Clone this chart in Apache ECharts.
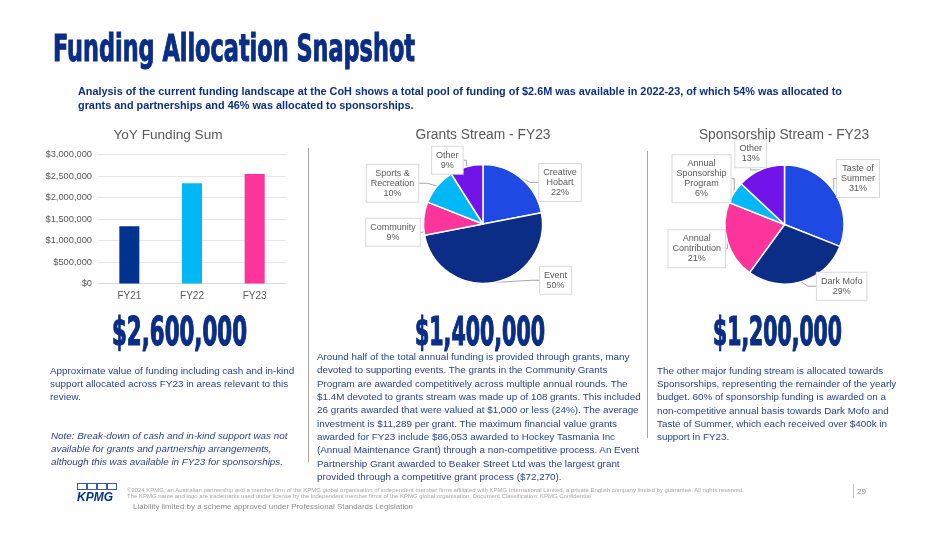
<!DOCTYPE html>
<html><head><meta charset="utf-8">
<script src="https://cdn.jsdelivr.net/npm/echarts@6/dist/echarts.min.js"></script>
<style>
html,body{margin:0;padding:0;background:#fff;}
#page{position:relative;width:951px;height:535px;overflow:hidden;font-family:'Liberation Sans',Arial,sans-serif;}
#chart{position:absolute;left:0;top:0;width:951px;height:535px;}
.t{position:absolute;white-space:nowrap;transform-origin:0 0;}
.head{font-family:'DejaVu Sans Condensed','DejaVu Sans',sans-serif;font-stretch:condensed;font-weight:bold;color:#0A2D86;line-height:1;-webkit-text-stroke:1px #0A2D86;}
.sub{font-weight:bold;color:#0E2F86;font-size:10.5px;line-height:14px;}
.para{color:#2A4390;font-size:9.4px;}
.vsep{position:absolute;width:1px;background:#A6A6A6;}
.foot{color:#A6A6A6;font-size:4px;line-height:6px;}
.box{position:absolute;top:483px;width:8px;height:5px;border:1px solid #3C5BB0;}
</style></head>
<body><div id="page">
<div id="chart"></div>

<div class="t head" id="title" data-w="362" style="left:53px;top:30.5px;font-size:36.5px;">Funding Allocation Snapshot</div>

<div class="t sub" id="sub" style="left:78px;top:84px;"><span id="sub1">Analysis of the current funding landscape at the CoH shows a total pool of funding of $2.6M was available in 2022-23, of which 54% was allocated to</span><br>grants and partnerships and 46% was allocated to sponsorships.</div>

<div class="vsep" style="left:308px;top:148px;height:314px;"></div>
<div class="vsep" style="left:647px;top:151px;height:287px;"></div>

<div class="t head" id="n1" data-w="135" style="left:112px;top:312px;font-size:39px;-webkit-text-stroke:1.2px #0A2D86;">$2,600,000</div>
<div class="t head" id="n2" data-w="130" style="left:415px;top:312px;font-size:39px;-webkit-text-stroke:1.2px #0A2D86;">$1,400,000</div>
<div class="t head" id="n3" data-w="129" style="left:713px;top:312px;font-size:39px;-webkit-text-stroke:1.2px #0A2D86;">$1,200,000</div>

<div class="t para" id="p1" data-w="244" style="left:50px;top:364px;line-height:13px;"><span>Approximate value of funding including cash and in-kind</span><br>support allocated across FY23 in areas relevant to this<br>review.</div>

<div class="t para" id="p2" data-w="236" style="left:51px;top:428.5px;line-height:13px;font-style:italic;"><span>Note: Break-down of cash and in-kind support was not</span><br>available for grants and partnership arrangements,<br>although this was available in FY23 for sponsorships.</div>

<div class="t para" id="p3" data-w="312" style="left:317px;top:350px;line-height:13.33px;"><span>Around half of the total annual funding is provided through grants, many</span><br>devoted to supporting events. The grants in the Community Grants<br>Program are awarded competitively across multiple annual rounds. The<br>$1.4M devoted to grants stream was made up of 108 grants. This included<br>26 grants awarded that were valued at $1,000 or less (24%). The average<br>investment is $11,289 per grant. The maximum financial value grants<br>awarded for FY23 include $86,053 awarded to Hockey Tasmania Inc<br>(Annual Maintenance Grant) through a non-competitive process. An Event<br>Partnership Grant awarded to Beaker Street Ltd was the largest grant<br>provided through a competitive grant process ($72,270).</div>

<div class="t para" id="p4" data-w="226" style="left:657px;top:364px;line-height:13.2px;"><span>The other major funding stream is allocated towards</span><br>Sponsorships, representing the remainder of the yearly<br>budget. 60% of sponsorship funding is awarded on a<br>non-competitive annual basis towards Dark Mofo and<br>Taste of Summer, which each received over $400k in<br>support in FY23.</div>

<div class="box" style="left:77px;"></div><div class="box" style="left:87px;"></div><div class="box" style="left:97px;"></div><div class="box" style="left:107px;"></div>
<div class="t" style="left:77px;top:491px;font-size:12px;line-height:12px;font-weight:bold;font-style:italic;color:#00338D;">KPMG</div>

<div class="t foot" id="f1" data-w="618" style="left:127px;top:487px;"><span>©2024 KPMG, an Australian partnership and a member firm of the KPMG global organisation of independent member firms affiliated with KPMG International Limited, a private English company limited by guarantee. All rights reserved.</span><br>The KPMG name and logo are trademarks used under license by the independent member firms of the KPMG global organisation. Document Classification: KPMG Confidential</div>
<div class="t" id="f2" data-w="280" style="left:133px;top:503px;font-size:7.2px;line-height:8px;color:#8C8C8C;"><span>Liability limited by a scheme approved under Professional Standards Legislation</span></div>

<div class="vsep" style="left:853px;top:484px;height:14px;background:#BFBFBF;"></div>
<div class="t" style="left:857px;top:486.5px;font-size:8px;line-height:9px;color:#8C8C8C;">29</div>
</div>

<script>
// ---- data ----
const barCategories = ['FY21', 'FY22', 'FY23'];
const barValues = [1333000, 2330000, 2545000];
const barColors = ['#00338D', '#00B8F5', '#FD349C'];
const barAxisMax = 3000000;
const barAxisStep = 500000;

const grantNames = ['Creative\nHobart', 'Event', 'Community', 'Sports &\nRecreation', 'Other'];
const grantValues = [22, 50, 9, 10, 9];
const grantColors = ['#1E49E2', '#0C2D86', '#FD349C', '#00B8F5', '#7213EA'];

const sponsorNames = ['Taste of\nSummer', 'Dark Mofo', 'Annual\nContribution', 'Annual\nSponsorship\nProgram', 'Other'];
const sponsorValues = [31, 29, 21, 6, 13];
const sponsorColors = ['#1E49E2', '#0C2D86', '#FD349C', '#00B8F5', '#7213EA'];

const chartTitles = ['YoY Funding Sum', 'Grants Stream - FY23', 'Sponsorship Stream - FY23'];

// label nudges (annotation placement only)
const grantLabelShift = [[-1, 12], [31, -12], [14, 3], [6, -10], [12, 3]];
const sponsorLabelShift = [[-18, -7], [0, -5], [14, 1], [20, -23], [22, -7]];

// ---- text fitting ----
document.querySelectorAll('.head[data-w]').forEach(el => {
  const w = el.getBoundingClientRect().width;
  el.style.transform = 'scaleX(' + (parseFloat(el.dataset.w) / w) + ')';
});
document.querySelectorAll('.para[data-w], .foot[data-w], #f2').forEach(el => {
  const span = el.querySelector('span');
  const w = span.getBoundingClientRect().width;
  const fs = parseFloat(getComputedStyle(el).fontSize);
  el.style.fontSize = (fs * parseFloat(el.dataset.w) / w) + 'px';
});
(function () {
  const el = document.getElementById('sub');
  const w = document.getElementById('sub1').getBoundingClientRect().width;
  const fs = parseFloat(getComputedStyle(el).fontSize);
  el.style.fontSize = (fs * 765 / w) + 'px';
})();

// ---- chart ----
const chart = echarts.init(document.getElementById('chart'), null, {renderer: 'canvas'});
const gray = '#595959';
function pieSeries(names, values, colors, center, shifts) {
  return {
    type: 'pie',
    center: center,
    radius: 59.5,
    startAngle: 90,
    clockwise: true,
    silent: true,
    animation: false,
    data: names.map((n, i) => ({name: n, value: values[i], itemStyle: {color: colors[i]}})),
    itemStyle: {borderColor: '#fff', borderWidth: 1.5},
    label: {
      show: true,
      position: 'outside',
      formatter: p => p.name + '\n' + p.value + '%',
      color: gray,
      fontSize: 9,
      lineHeight: 10,
      fontFamily: 'Liberation Sans',
      backgroundColor: '#fff',
      borderColor: '#D9D9D9',
      borderWidth: 1,
      padding: [4, 4, 3, 4]
    },
    labelLine: {show: true, length: 10, length2: 8, lineStyle: {color: '#A6A6A6', width: 1}},
    labelLayout: p => ({
      x: p.labelRect.x + p.labelRect.width / 2 + shifts[p.dataIndex][0],
      y: p.labelRect.y + p.labelRect.height / 2 + shifts[p.dataIndex][1],
      align: 'center',
      verticalAlign: 'middle'
    })
  };
}

const option = {
  animation: false,
  textStyle: {fontFamily: 'Liberation Sans'},
  graphic: [
    {type: 'text', x: 168, y: 135, style: {text: chartTitles[0], fill: gray, font: '13.6px "Liberation Sans"', align: 'center', verticalAlign: 'middle'}},
    {type: 'text', x: 483, y: 135, style: {text: chartTitles[1], fill: gray, font: '13.8px "Liberation Sans"', align: 'center', verticalAlign: 'middle'}},
    {type: 'text', x: 784, y: 135, style: {text: chartTitles[2], fill: gray, font: '13.8px "Liberation Sans"', align: 'center', verticalAlign: 'middle'}}
  ],
  grid: {left: 98, top: 154.5, width: 188, height: 129, containLabel: false},
  xAxis: {
    type: 'category',
    data: barCategories,
    axisTick: {show: false},
    axisLine: {lineStyle: {color: '#D9D9D9'}},
    axisLabel: {color: gray, fontSize: 10, margin: 8}
  },
  yAxis: {
    type: 'value',
    min: 0,
    max: barAxisMax,
    interval: barAxisStep,
    axisLine: {show: false},
    axisTick: {show: false},
    splitLine: {lineStyle: {color: '#E6E6E6'}},
    axisLabel: {color: gray, fontSize: 9.3, margin: 6, formatter: v => '$' + v.toLocaleString('en-US')}
  },
  series: [
    {
      type: 'bar',
      barWidth: 20,
      silent: true,
      data: barValues.map((v, i) => ({value: v, itemStyle: {color: barColors[i]}}))
    },
    pieSeries(grantNames, grantValues, grantColors, [483, 224], grantLabelShift),
    pieSeries(sponsorNames, sponsorValues, sponsorColors, [784.5, 224.5], sponsorLabelShift)
  ]
};
chart.setOption(option);
</script>
</body></html>
